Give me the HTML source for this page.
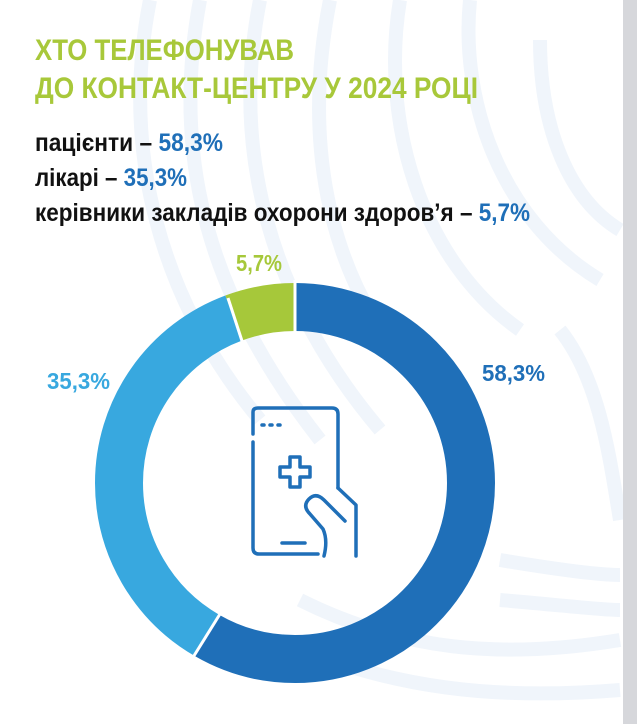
<!DOCTYPE html>
<html><head><meta charset="utf-8"><style>
html,body{margin:0;padding:0;background:#fff;}
svg{display:block;}
text{font-family:"Liberation Sans Narrow","Liberation Sans",sans-serif;font-weight:bold;}
</style></head><body>
<svg width="637" height="724" viewBox="0 0 637 724" xmlns="http://www.w3.org/2000/svg">
<rect width="637" height="724" fill="#fff"/>
<g fill="none" stroke="#f0f5fb" stroke-width="14">
<path d="M150 0 C120 150 160 300 260 420"/>
<path d="M200 0 C170 160 210 300 320 440"/>
<path d="M260 0 C230 150 270 300 380 430"/>
<path d="M330 0 C300 150 330 300 440 400"/>
<path d="M400 0 C380 120 420 260 520 330"/>
<path d="M470 0 C460 100 500 220 600 280"/>
<path d="M540 40 C540 130 570 200 620 230"/>
<path d="M300 600 C400 650 500 660 620 640"/>
<path d="M280 640 C390 690 500 700 620 690"/>
<path d="M500 560 C560 570 600 575 620 575"/>
<path d="M500 600 C560 605 600 610 620 610"/>
<path d="M560 330 C600 380 610 460 620 520"/>
</g>
<rect x="623" y="0" width="14" height="724" fill="#d6d7db"/>
<text x="35" y="60" font-size="30" fill="#a8c83a" textLength="259" lengthAdjust="spacingAndGlyphs">ХТО ТЕЛЕФОНУВАВ</text>
<text x="35" y="98" font-size="30" fill="#a8c83a" textLength="443" lengthAdjust="spacingAndGlyphs">ДО КОНТАКТ-ЦЕНТРУ У 2024 РОЦІ</text>
<text x="35" y="151" font-size="25" fill="#111" textLength="188" lengthAdjust="spacingAndGlyphs">пацієнти – <tspan fill="#1f6fb8">58,3%</tspan></text>
<text x="35" y="186" font-size="25" fill="#111" textLength="152" lengthAdjust="spacingAndGlyphs">лікарі – <tspan fill="#1f6fb8">35,3%</tspan></text>
<text x="35" y="221" font-size="25" fill="#111" textLength="495" lengthAdjust="spacingAndGlyphs">керівники закладів охорони здоров’я – <tspan fill="#1f6fb8">5,7%</tspan></text>
<g transform="translate(295 483) rotate(-90)" fill="none" stroke-width="48">
<circle r="176" stroke="#1f6fb8" stroke-dasharray="644.7 1105.8"/>
<circle r="176" stroke="#38a8df" stroke-dasharray="398.1 1105.8" stroke-dashoffset="-644.7"/>
<circle r="176" stroke="#a6c83a" stroke-dasharray="63 1105.8" stroke-dashoffset="-1042.8"/>
</g>
<g stroke="#fff" stroke-width="3">
<line x1="295" y1="280" x2="295" y2="333"/>
<line x1="228" y1="298" x2="242" y2="341"/>
<line x1="192" y1="659" x2="220" y2="614"/>
</g>
<g fill="none" stroke="#1f6fb8" stroke-width="3.5" stroke-linecap="round" stroke-linejoin="round">
<path d="M253 434 V412 Q253 408 258 408 H332 Q338 408 338 414 V488"/>
<path d="M253 442 V548 Q253 554 259 554 H318"/>
<path d="M262 425 h2 M270 425 h2 M278 425 h2"/>
<path d="M282 543 H305"/>
<path d="M290 457 h10 v10 h10 v10 h-10 v10 h-10 v-10 h-10 v-10 h10 z"/>
<path d="M338 488 L356 505 V556"/>
<path d="M345 521 L324 500 Q316 492 309 499 Q302 506 310 514 L323 529 Q328 540 324 556"/>
</g>
<text x="236" y="271" font-size="23" fill="#a6c83a" textLength="46" lengthAdjust="spacingAndGlyphs">5,7%</text>
<text x="482" y="381" font-size="23" fill="#1f6fb8" textLength="63" lengthAdjust="spacingAndGlyphs">58,3%</text>
<text x="47" y="389" font-size="23" fill="#38a8df" textLength="63" lengthAdjust="spacingAndGlyphs">35,3%</text>
</svg>
</body></html>
